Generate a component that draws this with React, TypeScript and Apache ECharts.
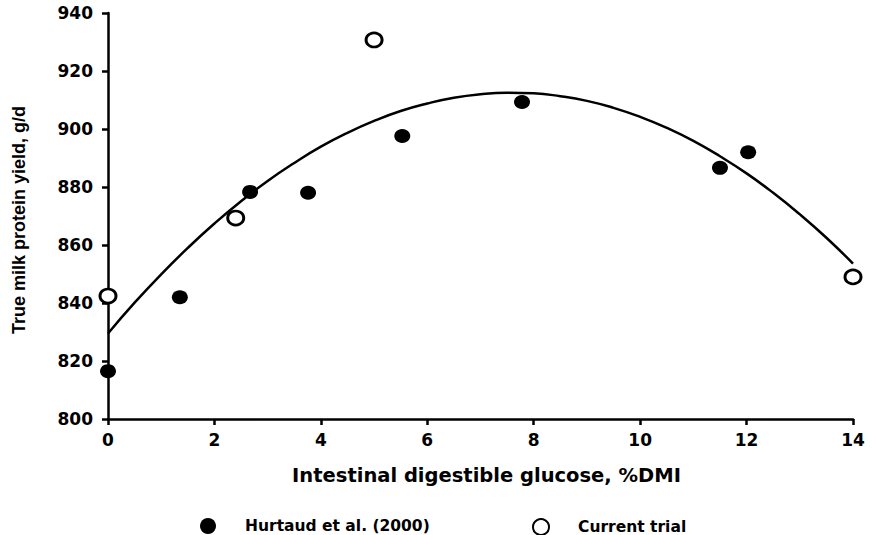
import React, { useEffect, useRef } from "react";
import * as echarts from "echarts";

const hurtaudX = [0, 1.35, 2.67, 3.76, 5.53, 7.78, 11.5, 12.03];
const hurtaudY = [816.5, 842, 878.3, 878, 897.6, 909.3, 886.6, 892];
const currentX = [0, 2.4, 5.0, 14.0];
const currentY = [842.4, 869.3, 930.7, 849];
const curveX = [0, 0.5, 1, 1.5, 2, 2.5, 3, 3.5, 4, 4.5, 5, 5.5, 6, 6.5, 7, 7.5, 8, 8.5, 9, 9.5, 10, 10.5, 11, 11.5, 12, 12.5, 13, 13.5, 14];
const curveY = [829.5, 840.1, 849.9, 859.0, 867.4, 875.1, 882.1, 888.3, 893.9, 898.7, 902.8, 906.2, 908.8, 910.8, 912.0, 912.5, 912.3, 911.3, 909.7, 907.3, 904.2, 900.4, 895.9, 890.6, 884.7, 878.0, 870.6, 862.5, 853.6];
const xTicks = { min: 0, max: 14, interval: 2 };
const yTicks = { min: 800, max: 940, interval: 20 };
const xTitle = "Intestinal digestible glucose, %DMI";
const yTitle = "True milk protein yield, g/d";
const seriesNames = ["Hurtaud et al. (2000)", "Current trial"];

const wideFont = "DejaVu Sans";

export default function App() {
  const ref = useRef<HTMLDivElement>(null);
  useEffect(() => {
    if (!ref.current) return;
    const chart = echarts.init(ref.current, null, { renderer: "svg" });
    const axisLine = { show: true, lineStyle: { color: "#000", width: 2.5 } };
    const axisTick = { show: true, inside: false, length: 6, lineStyle: { color: "#000", width: 2.5 } };
    const legendText = { color: "#000", fontFamily: wideFont, fontWeight: "bold", fontSize: 15.5, padding: [0, 0, 0, 24] };
    chart.setOption({
      animation: false,
      backgroundColor: "#fff",
      grid: { left: 108, right: 19, top: 13, bottom: 116, containLabel: false },
      xAxis: {
        type: "value",
        min: xTicks.min,
        max: xTicks.max,
        interval: xTicks.interval,
        axisLine,
        axisTick,
        splitLine: { show: false },
        axisLabel: { color: "#000", fontFamily: wideFont, fontWeight: "bold", fontSize: 17, margin: 12 },
        name: xTitle,
        nameLocation: "middle",
        nameGap: 46,
        nameTextStyle: { color: "#000", fontFamily: wideFont, fontWeight: "bold", fontSize: 19.5, padding: [0, 0, 0, 12] },
      },
      yAxis: {
        type: "value",
        min: yTicks.min,
        max: yTicks.max,
        interval: yTicks.interval,
        axisLine,
        axisTick,
        splitLine: { show: false },
        axisLabel: { color: "#000", fontFamily: wideFont, fontWeight: "bold", fontSize: 17, margin: 15 },
        name: yTitle,
        nameLocation: "middle",
        nameGap: 80,
        nameTextStyle: {
          color: "#000",
          fontFamily: "Liberation Sans",
          fontWeight: "bold",
          fontSize: 18,
          padding: [0, 8, 0, 0],
        },
      },
      legend: [
        {
          data: [seriesNames[0]],
          left: 195,
          top: 513,
          itemWidth: 16,
          itemHeight: 16,
          textStyle: legendText,
        },
        {
          data: [seriesNames[1]],
          left: 527,
          top: 513,
          itemWidth: 16,
          itemHeight: 16,
          textStyle: legendText,
        },
      ],
      series: [
        {
          name: "fit",
          type: "line",
          data: curveX.map((x, i) => [x, curveY[i]]),
          smooth: true,
          showSymbol: false,
          lineStyle: { color: "#000", width: 2.5 },
          z: 1,
        },
        {
          name: seriesNames[0],
          type: "scatter",
          data: hurtaudX.map((x, i) => [x, hurtaudY[i]]),
          symbol: "circle",
          symbolSize: [16, 14],
          itemStyle: { color: "#000", opacity: 1 },
          z: 3,
        },
        {
          name: seriesNames[1],
          type: "scatter",
          data: currentX.map((x, i) => [x, currentY[i]]),
          symbol: "circle",
          symbolSize: [16, 14],
          itemStyle: { color: "#fff", borderColor: "#000", borderWidth: 2.8, opacity: 1 },
          z: 3,
        },
      ],
    });
    return () => chart.dispose();
  }, []);
  return <div ref={ref} style={{ width: 872, height: 535, position: "absolute", left: 0, top: 0 }} />;
}
